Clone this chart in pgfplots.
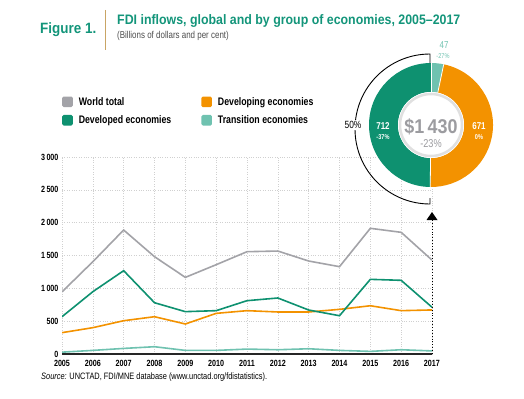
\documentclass[border=0pt]{standalone}
\usepackage{fontspec}
\setmainfont{Liberation Sans}[FakeStretch=0.8, Ligatures=TeX]
\newfontfamily\titlefont{Liberation Sans}[FakeStretch=0.9, Ligatures=TeX]
\usepackage{pgfplots}
\pgfplotsset{compat=1.18}
\definecolor{worldc}{HTML}{A3A3A8}
\definecolor{devc}{HTML}{0E9170}
\definecolor{ingc}{HTML}{F39200}
\definecolor{trc}{HTML}{6FC2B0}
\definecolor{titlec}{HTML}{13957A}
\definecolor{sepc}{HTML}{C9A565}
\definecolor{gridc}{HTML}{D0D0D0}
\definecolor{bigc}{HTML}{9C9CA0}
\newcommand{\fs}[1]{\fontsize{#1}{#1}\selectfont}
\begin{document}
\begin{tikzpicture}[x=1bp,y=1bp]
\path[use as bounding box] (0,0) rectangle (524,398);
% titles
\node[anchor=west, text=titlec, font=\titlefont\fs{15}\bfseries, inner sep=0] at (40,368) {Figure 1.};
\draw[sepc, line width=1bp] (105,388) -- (105,348);
\node[anchor=west, text=titlec, font=\titlefont\fs{13.8}\bfseries, inner sep=0] at (117,377) {FDI inflows, global and by group of economies, 2005\textendash 2017};
\node[anchor=west, text=black!70, font=\fs{10}, inner sep=0] at (117,362) {(Billions of dollars and per cent)};
\begin{axis}[
  at={(62bp,44bp)}, anchor=south west, scale only axis,
  width=370bp, height=197bp,
  xmin=2005, xmax=2017, ymin=0, ymax=3000,
  xtick={2005,...,2017}, ytick={0,500,...,3000},
  grid=major, grid style={gridc, dotted, line width=0.6bp},
  axis line style={draw=none}, major tick length=0pt,
  tick label style={font=\fs{9}\bfseries, /pgf/number format/assume math mode=true},
  yticklabel style={/pgf/number format/1000 sep={\,}},
  xticklabel style={/pgf/number format/1000 sep={}, yshift=-3bp},
  legend columns=2,
  legend cell align=left,
  legend style={at={(0,1.315)}, anchor=north west, draw=none, fill=none, inner sep=0pt,
    font=\fs{11}\bfseries, row sep=5bp,
    /tikz/every odd column/.append style={column sep=4bp},
    /tikz/every even column/.append style={column sep=28bp}},
  legend image code/.code={\fill[#1, rounded corners=1bp] (0bp,-4.5bp) rectangle (9bp,4.5bp);},
]
\draw[black!85, line width=1.3bp] (axis cs:2005,0) -- (axis cs:2017,0);
\addplot[worldc, line width=1.6bp] coordinates {(2005,946) (2006,1406) (2007,1888) (2008,1482) (2009,1167) (2010,1360) (2011,1558) (2012,1568) (2013,1416) (2014,1330) (2015,1914) (2016,1853) (2017,1430)};
\addlegendentry{World total}
\addplot[ingc, line width=1.6bp] coordinates {(2005,325) (2006,401) (2007,507) (2008,568) (2009,457) (2010,619) (2011,660) (2012,640) (2013,640) (2014,680) (2015,735) (2016,660) (2017,671)};
\addlegendentry{Developing economies}
\addplot[devc, line width=1.6bp] coordinates {(2005,568) (2006,949) (2007,1269) (2008,781) (2009,645) (2010,660) (2011,812) (2012,853) (2013,670) (2014,583) (2015,1137) (2016,1122) (2017,712)};
\addlegendentry{Developed economies}
\addplot[trc, line width=1.6bp] coordinates {(2005,28) (2006,55) (2007,85) (2008,111) (2009,55) (2010,55) (2011,75) (2012,65) (2013,80) (2014,55) (2015,40) (2016,65) (2017,47)};
\addlegendentry{Transition economies}
\end{axis}
% source
\node[anchor=west, font=\fs{9.3}, inner sep=0] at (41,21) {\textit{Source:} UNCTAD, FDI/MNE database (www.unctad.org/fdistatistics).};
% donut
\def\cx{431}\def\cy{273}\def\ro{62}\def\ri{33}
\pgfmathsetmacro\aA{90-47/1430*360}
\pgfmathsetmacro\aB{\aA-671/1430*360}
\fill[trc] ([shift={(\cx,\cy)}]90:\ro) arc[start angle=90,end angle=\aA,radius=\ro] -- ([shift={(\cx,\cy)}]\aA:\ri) arc[start angle=\aA,end angle=90,radius=\ri] -- cycle;
\fill[ingc] ([shift={(\cx,\cy)}]\aA:\ro) arc[start angle=\aA,end angle=\aB,radius=\ro] -- ([shift={(\cx,\cy)}]\aB:\ri) arc[start angle=\aB,end angle=\aA,radius=\ri] -- cycle;
\fill[devc] ([shift={(\cx,\cy)}]\aB:\ro) arc[start angle=\aB,end angle=-270,radius=\ro] -- ([shift={(\cx,\cy)}]-270:\ri) arc[start angle=-270,end angle=\aB,radius=\ri] -- cycle;
\foreach \a in {90,\aA,\aB} \draw[white, line width=0.8bp] ([shift={(\cx,\cy)}]\a:\ri) -- ([shift={(\cx,\cy)}]\a:\ro);
\fill[white] (\cx,\cy) circle[radius=\ri];
\draw[black!12, line width=2.5bp] (\cx,\cy) circle[radius=31];
\node[text=bigc, font=\titlefont\fs{20}\bfseries, inner sep=0, anchor=base] at (431,265) {\$1\,430};
\node[text=bigc, font=\fs{11.5}, inner sep=0, anchor=base] at (431,251) {-23\%};
\node[text=white, font=\fs{10}\bfseries, inner sep=0] at (383,272) {712};
\node[text=white, font=\fs{7}\bfseries, inner sep=0] at (383,261) {-37\%};
\node[text=white, font=\fs{10}\bfseries, inner sep=0] at (479,272) {671};
\node[text=white, font=\fs{7}\bfseries, inner sep=0] at (479,261) {0\%};
\node[text=trc, font=\fs{10}, inner sep=0] at (444,353) {47};
\node[text=trc, font=\fs{7}, inner sep=0] at (443,342) {-27\%};
% bracket arc
\draw[line width=0.9bp] (430,335) -- (430,344) arc[start angle=90,end angle=270,radius=75] -- (430,200);
\node[fill=white, font=\fs{10.5}, inner sep=1bp] at (353,273) {50\%};
% pointer
\fill (426.5,178) -- (437.5,178) -- (432,186) -- cycle;
\draw[dotted, line width=0.9bp] (432,178) -- (432,44);
\end{tikzpicture}
\end{document}
